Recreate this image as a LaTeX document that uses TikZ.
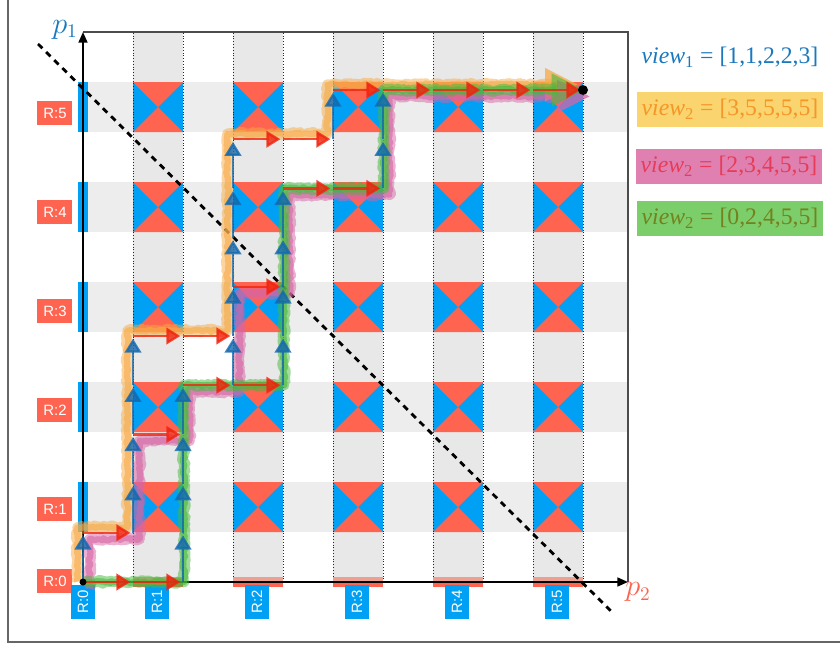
\documentclass[tikz,border=0pt]{standalone}
\usepackage{fontspec}
\setmainfont{Liberation Serif}
\setsansfont{Liberation Sans}
\usetikzlibrary{arrows.meta,decorations.pathmorphing}
\definecolor{hred}{RGB}{254,100,80}
\definecolor{hblue}{RGB}{0,160,245}
\definecolor{rowgray}{RGB}{236,237,236}
\definecolor{colgray}{RGB}{232,232,232}
\definecolor{pblue}{RGB}{25,120,190}
\definecolor{tblue}{RGB}{20,105,175}
\definecolor{tred}{RGB}{240,35,15}
\definecolor{skorange}{RGB}{247,170,70}
\definecolor{skpink}{RGB}{215,100,165}
\definecolor{skgreen}{RGB}{70,185,60}
\definecolor{boxorange}{RGB}{250,212,110}
\definecolor{txtorange}{RGB}{245,150,40}
\definecolor{boxpink}{RGB}{224,128,176}
\definecolor{txtpink}{RGB}{230,60,90}
\definecolor{boxgreen}{RGB}{124,206,106}
\definecolor{txtgreen}{RGB}{115,130,30}
\definecolor{pred}{RGB}{250,100,80}
\definecolor{barlight}{RGB}{236,160,145}
\tikzset{
  rlab/.style={fill=hred, text=white, font=\sffamily\fontsize{8.5}{10}\selectfont, minimum width=0.7cm, minimum height=0.48cm, inner sep=0pt},
  clab/.style={fill=hblue, text=white, font=\sffamily\fontsize{8.5}{10}\selectfont, minimum width=0.68cm, minimum height=0.48cm, inner sep=0pt, rotate=90},
  lg/.style={minimum width=3.72cm, minimum height=0.7cm, inner sep=0pt, font=\fontsize{13.5}{16}\selectfont},
  dotline/.style={dash pattern=on 0.5pt off 1.1pt, line width=0.5pt, black!85},
  skA/.style={line width=6pt, line join=round, opacity=0.5, decorate, decoration={random steps, segment length=1.2pt, amplitude=0.9pt}},
  skB/.style={line width=3.5pt, line join=round, opacity=0.6, decorate, decoration={random steps, segment length=1.2pt, amplitude=0.7pt}},
  tarr/.style={line width=1.3pt, opacity=0.8, -{Triangle[length=8pt,width=9.5pt]}, shorten >=1.5pt},
}
\begin{document}
\begin{tikzpicture}[x=1cm,y=1cm]
\useasboundingbox (-1.66,-1.28) rectangle (15.14,11.64);
% outer frame
\draw[line width=1pt, black!60] (-1.5,11.64) -- (-1.5,-1.2) -- (15.14,-1.2);
% row bands
\foreach \j in {1,...,5} \fill[rowgray] (0,2*\j-1) rectangle (10.9,2*\j);
% column bands
\foreach \k in {1,...,5} \fill[colgray] (2*\k-1,0) rectangle (2*\k,11);
% hourglasses
\foreach \k in {1,...,5} {
  \foreach \j in {1,...,5} {
    \fill[hblue] (2*\k-1,2*\j-1) rectangle (2*\k,2*\j);
    \fill[hred] (2*\k-1,2*\j-1) -- (2*\k,2*\j-1) -- (2*\k-0.5,2*\j-0.5) -- cycle;
    \fill[hred] (2*\k-1,2*\j) -- (2*\k,2*\j) -- (2*\k-0.5,2*\j-0.5) -- cycle;
  }
}
% dotted column borders
\foreach \k in {1,...,5} {
  \draw[dotline] (2*\k-1,0) -- (2*\k-1,11);
  \draw[dotline] (2*\k,0) -- (2*\k,11);
}
% plot frame
\draw[line width=0.8pt, black!70] (0,11) -- (10.9,11) -- (10.9,0);
% bars on axes
\foreach \k in {1,...,5} {
  \fill[barlight] (2*\k-1,0) rectangle (2*\k,0.1);
  \fill[hred] (2*\k-1,-0.1) rectangle (2*\k,0);
  \fill[hblue] (-0.1,2*\k-1) rectangle (0.1,2*\k);
}
% axes
\draw[line width=1.1pt, -{Triangle[length=6pt,width=5pt]}] (0,0) -- (10.9,0);
\draw[line width=1.1pt, -{Triangle[length=6pt,width=5pt]}] (0,0) -- (0,11);
% diagonal
\draw[dash pattern=on 3.5pt off 3pt, line width=1.6pt] (-0.9,10.76) -- (10.62,-0.64);
% axis labels
\node[text=pblue, font=\fontsize{16}{18}\selectfont] (p1) at (-0.36,11.05) {$p_1$};
\node[text=pred, font=\fontsize{16}{18}\selectfont] (p2) at (11.1,-0.2) {$p_2$};
% row labels
\node[rlab] (r0) at (-0.56,0.02) {R:0};
\foreach \k in {1,...,5} \node[rlab] (r\k) at (-0.56,1.98*\k-0.52) {R:\k};
% column labels
\node[clab] (c0) at (0,-0.4) {R:0};
\foreach \k in {1,...,5} \node[clab] (c\k) at (2*\k-0.52,-0.4) {R:\k};
% legend
\node[lg, text=pblue] (v1) at (12.94,10.5) {\textit{view}\textsubscript{1} = [1,1,2,2,3]};
\node[lg, fill=boxorange, text=txtorange] (v2a) at (12.94,9.45) {\textit{view}\textsubscript{2} = [3,5,5,5,5]};
\node[lg, fill=boxpink, text=txtpink] (v2b) at (12.92,8.31) {\textit{view}\textsubscript{2} = [2,3,4,5,5]};
\node[lg, fill=boxgreen, text=txtgreen] (v2c) at (12.94,7.27) {\textit{view}\textsubscript{2} = [0,2,4,5,5]};
% paths
\begin{scope}[yscale=0.984]
  \pgfmathsetseed{7}
  % orange
  \begin{scope}[shift={(-0.11,0.11)}]
    \foreach \s in {skA,skB}
      \draw[\s, skorange] (0,-0.1) -- (0,1) -- (1,1) -- (1,5) -- (3,5) -- (3,9) -- (5,9) -- (5,10) -- (9.45,10);
    \fill[skorange, opacity=0.75] (10,10) -- (9.35,10.34) -- (9.35,9.66) -- cycle;
  \end{scope}
  % pink
  \begin{scope}[shift={(0.13,-0.13)}]
    \foreach \s in {skA,skB}
      \draw[\s, skpink] (0,0) -- (0,1) -- (1,1) -- (1,3) -- (2,3) -- (2,4) -- (3,4) -- (3,6) -- (4,6) -- (4,8) -- (6,8) -- (6,10) -- (9.45,10);
    \fill[skpink, opacity=0.75] (10,10) -- (9.35,10.34) -- (9.35,9.66) -- cycle;
  \end{scope}
  % green
  \begin{scope}[shift={(0.02,0)}]
    \foreach \s in {skA,skB}
      \draw[\s, skgreen] (0,0) -- (2,0) -- (2,4) -- (4,4) -- (4,8) -- (6,8) -- (6,10) -- (9.45,10);
    \fill[skgreen, opacity=0.6] (10,10) -- (9.35,10.34) -- (9.35,9.66) -- cycle;
  \end{scope}
  % thin step arrows: up (p1) in blue
  \foreach \x/\y in {0/0, 1/1, 1/2, 1/3, 1/4, 2/0, 2/1, 2/2, 2/3, 3/4, 3/5, 3/6, 3/7, 3/8, 4/4, 4/5, 4/6, 4/7, 5/9, 6/8, 6/9}
    \draw[tarr, tblue] (\x,\y) -- (\x,\y+1);
  % thin step arrows: right (p2) in red
  \foreach \x/\y in {0/0, 1/0, 0/1, 1/3, 2/4, 3/4, 1/5, 2/5, 3/6, 4/8, 5/8, 3/9, 4/9, 5/10, 6/10, 7/10, 8/10, 9/10}
    \draw[tarr, tred] (\x,\y) -- (\x+1,\y);
  % end point
  \fill (10,10) circle (0.1);
\end{scope}
\fill (0,0) circle (0.07);
\end{tikzpicture}
\end{document}
